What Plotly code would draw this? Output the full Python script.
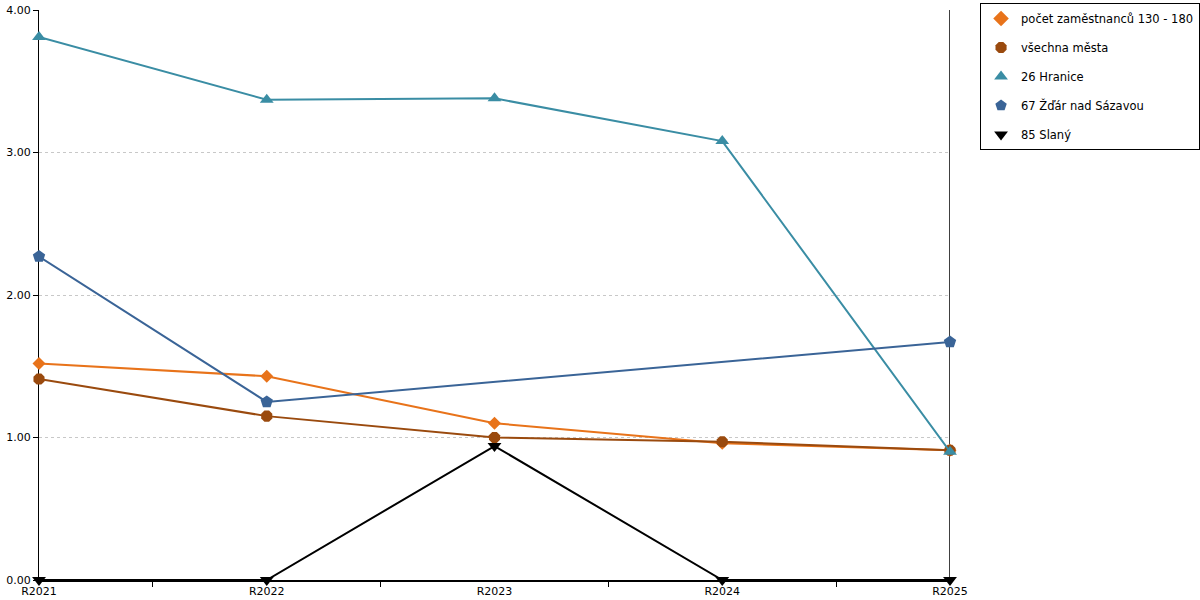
import plotly.graph_objects as go

roky = ['R2021', 'R2022', 'R2023', 'R2024', 'R2025']

pocet_zam = [1.52, 1.43, 1.10, 0.96, 0.91]
vsechna_mesta = [1.41, 1.15, 1.00, 0.97, 0.91]
hranice = [3.81, 3.37, 3.38, 3.08, 0.90]
zdar = [2.27, 1.25, None, None, 1.67]
slany = [0.00, 0.00, 0.94, 0.00, 0.00]

serie = [
    ('počet zaměstnanců 130 - 180', pocet_zam, '#E8731A', 'diamond', 10),
    ('všechna města', vsechna_mesta, '#9A4A0E', 'octagon', 12),
    ('26 Hranice', hranice, '#3A8DA4', 'triangle-up', 12),
    ('67 Žďár nad Sázavou', zdar, '#3A6497', 'pentagon', 13),
    ('85 Slaný', slany, '#000000', 'triangle-down', 12),
]

x = list(range(len(roky)))

fig = go.Figure()

for i, (name, vals, color, symbol, size) in enumerate(serie):
    fig.add_trace(go.Scatter(x=x, y=vals, name=name,
                             mode='lines+markers',
                             connectgaps=True,
                             cliponaxis=False,
                             showlegend=False,
                             line=dict(color=color, width=2),
                             marker=dict(symbol=symbol, size=size, color=color)
                             ))
    # jen znacka do legendy
    fig.add_trace(go.Scatter(x=[None], y=[None], name=name,
                             mode='markers', legendgroup='g%d' % i,
                             marker=dict(symbol=symbol, size=size, color=color)
                             ))

# prava svisla cara
fig.add_shape(type='line', xref='x', yref='paper', x0=4, x1=4, y0=0, y1=1,
              line=dict(color='black', width=1.5), layer='below')

fig.update_layout(
    width=1200, height=600,
    margin=dict(l=39, r=250, t=10, b=20),
    plot_bgcolor='white',
    paper_bgcolor='white',
    font=dict(family='DejaVu Sans, Verdana, sans-serif', size=11, color='black'),
    showlegend=True,
    legend=dict(xref='container', yref='container',
                x=0.8167, xanchor='left', y=0.995, yanchor='top',
                bordercolor='black', borderwidth=1,
                font=dict(size=11.5), tracegroupgap=10,
                traceorder='grouped', itemsizing='constant'),
    xaxis=dict(range=[0, 4], tickvals=x, ticktext=roky, automargin=False,
               ticks='', showgrid=False, zeroline=False,
               showline=True, linecolor='black', linewidth=2,
               tickfont=dict(size=11), layer='below traces',
               minor=dict(tickvals=[0.5, 1.5, 2.5, 3.5], ticks='outside',
                          ticklen=5, tickcolor='black', showgrid=False)),
    yaxis=dict(range=[0, 4], tickvals=[0, 1, 2, 3, 4], tickformat='.2f',
               automargin=False, layer='below traces',
               ticks='outside', ticklen=5, tickcolor='black',
               showgrid=True, gridcolor='#c8c8c8', griddash='dot',
               zeroline=False, showline=True, linecolor='black', linewidth=1,
               tickfont=dict(size=11)),
)

# bez okraje stranky, aby graf sedel od rohu
fig.write_html("out.html", config={'displayModeBar': False},
               post_script="document.body.style.margin='0px';")
